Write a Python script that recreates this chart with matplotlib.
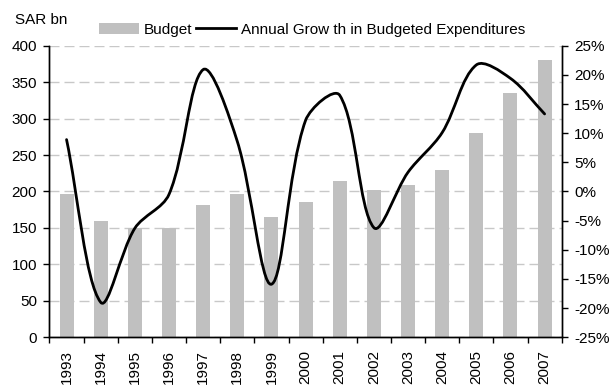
import matplotlib
matplotlib.use("Agg")
import matplotlib.pyplot as plt
from matplotlib.path import Path
from matplotlib.patches import PathPatch, Patch
from matplotlib.lines import Line2D
import numpy as np

plt.rcParams['font.family'] = ['Liberation Sans', 'DejaVu Sans']

# datos
years = ['1993', '1994', '1995', '1996', '1997', '1998', '1999', '2000',
         '2001', '2002', '2003', '2004', '2005', '2006', '2007']
budget = [197, 160, 150, 150, 181, 196, 165, 185, 215, 202, 209, 230, 280, 335, 380]
growth = [8.9, -19.0, -6.3, -0.5, 20.9, 8.6, -15.9, 12.2, 16.5, -6.2, 3.3, 10.1, 21.7, 19.4, 13.3]

left_ticks = list(range(0, 401, 50))
right_ticks = list(range(-25, 26, 5))
fs = 11

fig = plt.figure(figsize=(6.1, 3.85), dpi=100)
ax = fig.add_axes([0.0811, 0.1239, 0.8397, 0.7574])
ax2 = ax.twinx()

x = np.arange(len(years))
ax.bar(x, budget, width=0.41, color='#c0c0c0', zorder=2)
ax.set_xlim(-0.5, len(years) - 0.5)
ax.set_ylim(0, 400)
ax.set_axisbelow(True)

# rejilla discontinua
ax.set_yticks(left_ticks)
ax.yaxis.grid(True, color='#c8c8c8', linewidth=1.0, linestyle=(0, (7.2, 3.6)))

# ticks del eje x en los bordes de categoria, etiquetas en el centro
ax.set_xticks(np.arange(-0.5, len(years), 1.0))
ax.set_xticklabels([])
ax.set_xticks(x, minor=True)
ax.set_xticklabels(years, minor=True, rotation=90, fontsize=fs)
ax.tick_params(axis='x', which='major', direction='out', length=4, width=1)
ax.tick_params(axis='x', which='minor', length=0, pad=9)
ax.tick_params(axis='y', direction='out', length=4, width=1, labelsize=fs, pad=5)

# linea suavizada (curva tipo Excel) en el eje derecho
# los puntos de control se calculan en un espacio parecido al de pantalla
ky = (339.3 - 45.7) / 50.0 / (512.2 / 15.0)
pts = np.column_stack([x, np.array(growth) * ky]).astype(float)
n = len(pts)
verts = [pts[0]]
codes = [Path.MOVETO]
for i in range(n - 1):
    p0 = pts[i - 1] if i > 0 else pts[i]
    p1 = pts[i]
    p2 = pts[i + 1]
    p3 = pts[i + 2] if i + 2 < n else pts[i + 1]
    d01 = np.hypot(*(p1 - p0))
    d12 = np.hypot(*(p2 - p1))
    d23 = np.hypot(*(p3 - p2))
    c1 = p1 + (p2 - p0) / 3.0 * d12 / (d01 + d12)
    c2 = p2 - (p3 - p1) / 3.0 * d12 / (d12 + d23)
    verts += [c1, c2, p2]
    codes += [Path.CURVE4] * 3
verts = np.array(verts)
verts[:, 1] = verts[:, 1] / ky
ax2.add_patch(PathPatch(Path(verts, codes), facecolor='none', edgecolor='black',
                        linewidth=2.0, capstyle='round', joinstyle='round', zorder=3))
ax2.set_ylim(-25, 25)
ax2.set_yticks(right_ticks)
ax2.set_yticklabels([f"{v}%" for v in right_ticks])
ax2.tick_params(axis='y', direction='out', length=4, width=1, labelsize=fs, pad=5)

for a in (ax, ax2):
    a.spines['top'].set_visible(False)
    for s in ('left', 'right', 'bottom'):
        a.spines[s].set_linewidth(1.0)
        a.spines[s].set_color('black')

# leyenda
handles = [Patch(facecolor='#c0c0c0', edgecolor='none'),
           Line2D([0], [0], color='black', linewidth=2.0)]
leg = ax2.legend(handles, ['Budget', 'Annual Grow th in Budgeted Expenditures'],
                 loc='center', bbox_to_anchor=(0.5125, 1.055), ncol=2,
                 fontsize=fs, frameon=True, fancybox=False, framealpha=1,
                 edgecolor='none', facecolor='white', borderpad=0.25,
                 handlelength=2.6, handleheight=0.8, handletextpad=0.3,
                 columnspacing=0.3)

fig.text(0.025, 0.948, 'SAR bn', fontsize=fs, va='center', ha='left')

fig.savefig('out.png', dpi=100)
